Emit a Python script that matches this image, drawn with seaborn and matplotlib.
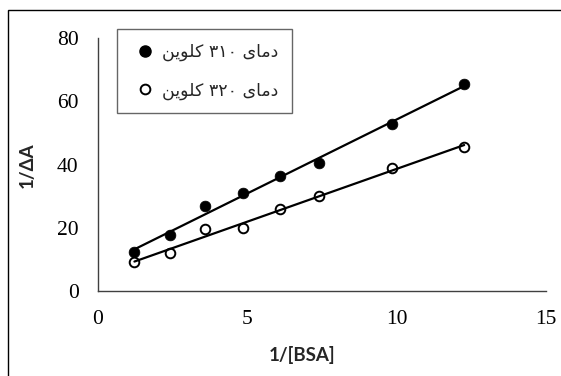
import matplotlib
matplotlib.use("Agg")
import matplotlib.pyplot as plt
from matplotlib.lines import Line2D
from matplotlib.patches import Rectangle
import seaborn as sns
import pandas as pd

# ---- data ----
inv_bsa = [1.22, 2.42, 3.59, 4.87, 6.11, 7.40, 9.86, 12.26]
inv_dA_310 = [12.2, 17.8, 26.9, 30.9, 36.4, 40.6, 52.7, 65.5]
inv_dA_320 = [9.2, 12.1, 19.6, 20.0, 25.9, 30.0, 38.8, 45.6]
labels = ["دمای ۳۱۰ کلوین", "دمای ۳۲۰ کلوین"]
x_ticks = [0, 5, 10, 15]
y_ticks = [0, 20, 40, 60, 80]
x_title = "1/[BSA]"
y_title = "1/ΔA"

# ---- minimal Persian shaping (matplotlib has no complex text layout) ----
FORMS = {  # isolated, final, initial, medial
    "د": ("\uFEA9", "\uFEAA", None, None),
    "م": ("\uFEE1", "\uFEE2", "\uFEE3", "\uFEE4"),
    "ا": ("\uFE8D", "\uFE8E", None, None),
    "ی": ("\uFBFC", "\uFBFD", "\uFBFE", "\uFBFF"),
    "ک": ("\uFB8E", "\uFB8F", "\uFB90", "\uFB91"),
    "ل": ("\uFEDD", "\uFEDE", "\uFEDF", "\uFEE0"),
    "و": ("\uFEED", "\uFEEE", None, None),
    "ن": ("\uFEE5", "\uFEE6", "\uFEE7", "\uFEE8"),
}


def shape_word(w):
    out = []
    for i, c in enumerate(w):
        if c not in FORMS:
            out.append(c)
            continue
        f = FORMS[c]
        prev = w[i - 1] if i > 0 else None
        nxt = w[i + 1] if i + 1 < len(w) else None
        pj = prev in FORMS and FORMS[prev][2] is not None
        nj = nxt in FORMS and f[2] is not None
        if pj and nj:
            out.append(f[3])
        elif pj:
            out.append(f[1])
        elif nj:
            out.append(f[2])
        else:
            out.append(f[0])
    return out


def visual(s):
    toks = s.split(" ")
    vis = []
    for t in reversed(toks):
        if any(ch in FORMS for ch in t):
            vis.append("".join(reversed(shape_word(t))))
        else:
            vis.append(t)
    return " ".join(vis)


# ---- figure ----
sns.set_theme(style="white")
plt.rcParams["font.family"] = ["Liberation Serif", "DejaVu Sans"]

W, H = 561, 376
fig = plt.figure(figsize=(W / 100, H / 100), dpi=100)
ax = fig.add_axes([98 / W, 1 - 291 / H, (546 - 98) / W, (291 - 38) / H])

df = pd.DataFrame({"x": inv_bsa, "y310": inv_dA_310, "y320": inv_dA_320})

sns.scatterplot(data=df, x="x", y="y310", ax=ax, s=60, color="black",
                edgecolor="black", linewidth=0.5, zorder=2, legend=False)
sns.scatterplot(data=df, x="x", y="y320", ax=ax, s=48, facecolor="white",
                edgecolor="black", linewidth=1.4, zorder=2, legend=False)
sns.regplot(data=df, x="x", y="y310", ax=ax, scatter=False, ci=None,
            truncate=True, color="black", line_kws={"lw": 1.6, "zorder": 3})
sns.regplot(data=df, x="x", y="y320", ax=ax, scatter=False, ci=None,
            truncate=True, color="black", line_kws={"lw": 1.6, "zorder": 3})

ax.set_xlim(0, 15)
ax.set_ylim(0, 80)
ax.set_xticks(x_ticks)
ax.set_yticks(y_ticks)
ax.set_xticklabels([str(v) for v in x_ticks], fontsize=15.5, family="Liberation Serif")
ax.set_yticklabels([str(v) for v in y_ticks], fontsize=15.5, family="Liberation Serif")
ax.tick_params(axis="both", length=0, colors="black")
ax.tick_params(axis="x", pad=14)
ax.tick_params(axis="y", pad=14)
ax.set_xlabel("")
ax.set_ylabel("")
for side in ["top", "right"]:
    ax.spines[side].set_visible(False)
for side in ["left", "bottom"]:
    ax.spines[side].set_color("#404040")
    ax.spines[side].set_linewidth(1.0)
ax.grid(False)

fig.text(302 / W, 1 - 355 / H, x_title, ha="center", va="center",
         fontsize=13.5, fontweight="bold", family="Lato")
fig.text(27 / W, 1 - 165 / H, y_title, ha="center", va="center", rotation=90,
         fontsize=13.5, fontweight="bold", family="Lato")

handles = [
    Line2D([], [], ls="none", marker="o", ms=8, mfc="black", mec="black"),
    Line2D([], [], ls="none", marker="o", ms=7, mfc="white", mec="black", mew=1.4),
]
leg = ax.legend(handles, [visual(l) for l in labels],
                loc="upper left", bbox_to_anchor=(117 / W, 1 - 29 / H),
                bbox_transform=fig.transFigure, borderaxespad=0,
                frameon=True, fancybox=False,
                prop={"family": "DejaVu Sans", "size": 12.5},
                borderpad=0.8, handlelength=1.6, handletextpad=0.2,
                labelspacing=1.15)
leg.get_frame().set_edgecolor("#404040")
leg.get_frame().set_linewidth(1.0)

fig.add_artist(Rectangle((7.5 / W, -0.1), 2, (1 - 9.5 / H) + 0.1,
                         transform=fig.transFigure, fill=False,
                         edgecolor="black", lw=1.0))

fig.savefig("out.png", dpi=100)
